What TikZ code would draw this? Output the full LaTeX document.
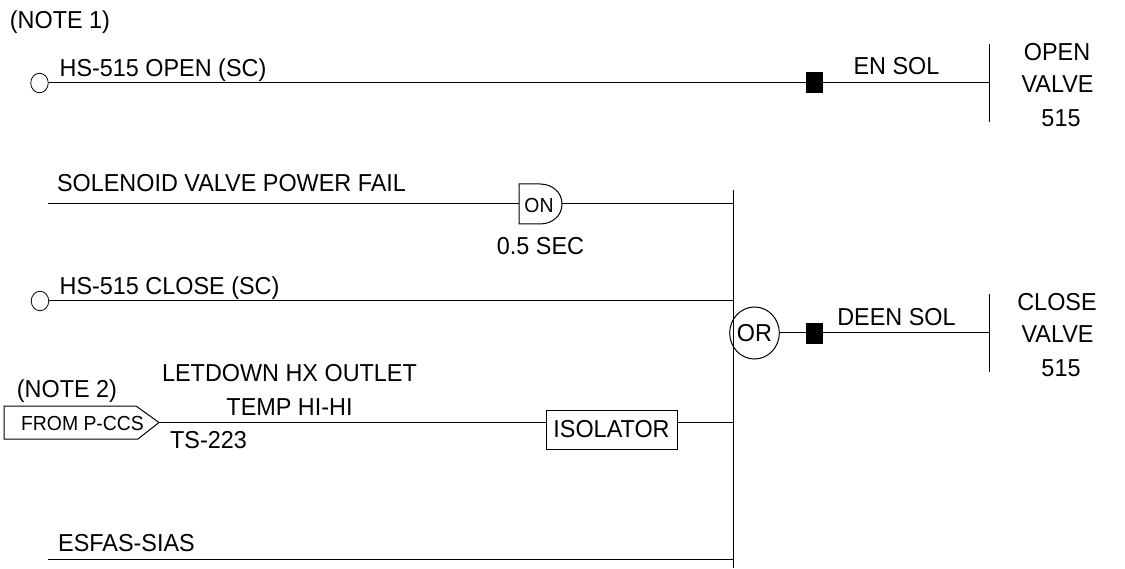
\documentclass[tikz,border=0pt]{standalone}
\usepackage{fontspec}
\setmainfont[FakeStretch=0.955]{Liberation Sans}
\usetikzlibrary{calc,shapes.geometric}
\tikzstyle{wire} = [draw,line width=1pt]
\tikzstyle{contact}=[ellipse,draw,fill=white,line width=.8pt,minimum width=17.5pt,minimum height=19.5pt,inner sep=0pt]
\tikzstyle{solenoid}=[rectangle,fill=black,minimum width=17pt,minimum height=21pt,inner sep=0pt]
\tikzstyle{isobox}=[rectangle,draw,fill=white,line width=1pt,minimum width=131pt,minimum height=39pt,inner sep=0pt]
\tikzstyle{orbox}=[ellipse,draw,line width=1pt,minimum width=45pt,minimum height=52pt,inner sep=0pt]
\tikzstyle{txt} = [font=\fontsize{24.5}{28}\selectfont,inner sep=0pt,anchor=base]
\tikzstyle{smalltxt} = [font=\fontsize{20.3}{24}\selectfont,inner sep=0pt,anchor=base]

\begin{document}
\begin{tikzpicture}[x=1pt,y=-1pt]
    \useasboundingbox (0,0) rectangle (1125,569);

    % free ends of the wires and of the bars
    \foreach \pos/ \name in {{(989,44)/opentop},{(989,122)/openbot},{(989,83)/openbar},
        {(989,294)/closetop},{(989,372)/closebot},{(989,333)/closebar},
        {(733,190)/ortop},{(733,568)/orbot},{(733,204)/orpower},{(733,301)/orclose},
        {(733,422.5)/oriso},{(733,559)/oresfas},{(48,204)/powerin},{(48,559)/esfasin},
        {(519,204)/onin},{(562,204)/onout},{(159,422.5)/ptip},
        {(546,422.5)/isoin},{(677,422.5)/isoout}}
        \node[coordinate] (\name) at \pos {};

    % contacts and solenoids
    \node[contact] (openc) at (39.5,83) {};
    \node[contact] (closec) at (40,301) {};
    \node[solenoid] (opensol) at (814.5,82.5) {};
    \node[solenoid] (closesol) at (814.5,333.5) {};

    \node[txt,isobox,anchor=center] (isolator) at (611.5,429.5) {ISOLATOR};
    \draw[line width=1pt] (519,184) -- (540,184) .. controls (552,184) and (562,192) .. (onout)
        .. controls (562,216) and (552,224) .. (540,224) -- (519,224) -- cycle;
    \node[smalltxt] (ongate) at (539,213) {ON};

    \node[txt,orbox,anchor=center] (orgate) at (754.5,333) {OR};

    \draw[line width=1pt] (4,406) -- (136,406) -- (ptip) -- (138,439) -- (4,439) -- cycle;
    \node[smalltxt] (fromccs) at (82.5,430) {FROM P-CCS};

    % wires
    \foreach \source/ \dest in {openc/openbar, powerin/onin, onout/orpower, closec/orclose,
        ptip/isoin, isoout/oriso, esfasin/oresfas, orgate/closebar, opentop/openbot,
        closetop/closebot, ortop/orbot}
        \path[wire] (\source) -- (\dest);

    % texts
    \foreach \pos/ \name/ \words in {{(60,29)/noteone/(NOTE 1)}, {(163,76.5)/hsopen/HS-515 OPEN (SC)},
        {(896.5,75)/ensol/EN SOL}, {(1057,60.5)/openl/OPEN}, {(1057.5,93)/valvea/VALVE}, {(1061,126.5)/numa/515},
        {(231.5,191.5)/fail/SOLENOID VALVE POWER FAIL}, {(540.5,255)/delay/0.5 SEC},
        {(169.5,295)/hsclose/HS-515 CLOSE (SC)}, {(896.5,326)/deensol/DEEN SOL},
        {(1057,310.5)/closel/CLOSE}, {(1057.5,343)/valveb/VALVE}, {(1061,376.5)/numb/515},
        {(289.5,381.5)/letdown/LETDOWN HX OUTLET}, {(289.5,415)/temp/TEMP HI-HI},
        {(67,398)/notetwo/(NOTE 2)}, {(208.5,448)/ts/TS-223}, {(126.5,551.5)/esfas/ESFAS-SIAS}}
        \node[txt] (\name) at \pos {\words};
\end{tikzpicture}
\end{document}
